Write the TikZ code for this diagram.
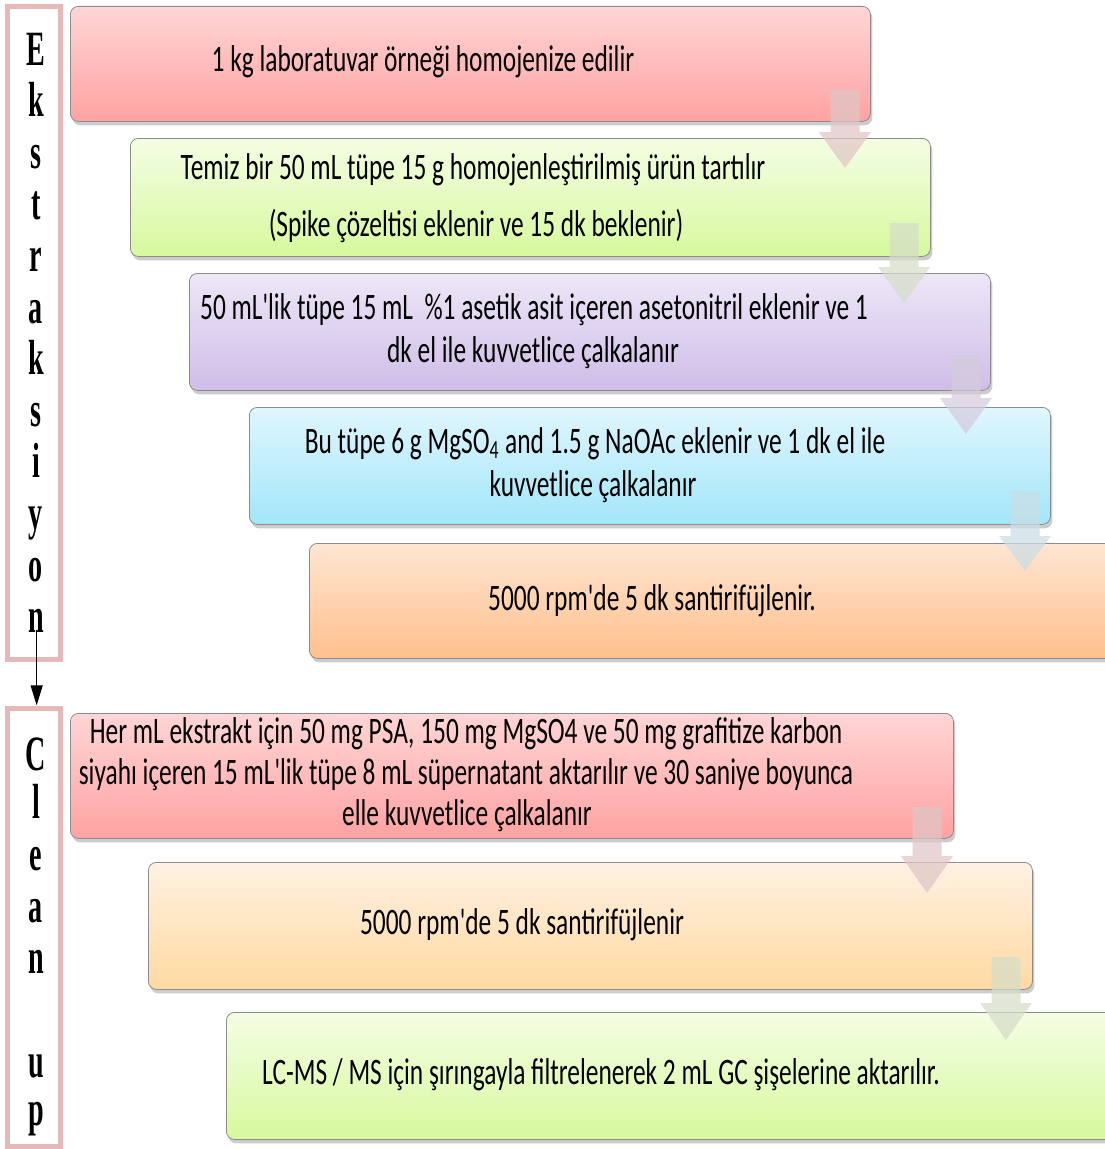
\documentclass[tikz,border=0pt]{standalone}
\usepackage{fontspec}
\newfontfamily\boxfont[FakeStretch=0.68,Ligatures=TeXOff]{Carlito}
\newfontfamily\sidefont[FakeStretch=0.57]{Liberation Serif}
\usetikzlibrary{shadows,arrows.meta}
\definecolor{redtop}{HTML}{FFD5D5}
\definecolor{redbot}{HTML}{FFA2A2}
\definecolor{grntop}{HTML}{F4FDE4}
\definecolor{grnbot}{HTML}{D7F99E}
\definecolor{purtop}{HTML}{EDE7F7}
\definecolor{purbot}{HTML}{CFBDE8}
\definecolor{blutop}{HTML}{E0F6FD}
\definecolor{blubot}{HTML}{A2E6FA}
\definecolor{orgtop}{HTML}{FFE5D3}
\definecolor{orgbot}{HTML}{FFC08D}
\definecolor{lortop}{HTML}{FFF1E3}
\definecolor{lorbot}{HTML}{FFD9A1}
\definecolor{sidepink}{HTML}{E6B8B7}
\definecolor{arpink}{HTML}{DFC6C6}
\definecolor{argreen}{HTML}{D5DDC8}
\definecolor{arpurp}{HTML}{D4CCDC}
\definecolor{arblue}{HTML}{CADEE4}
\newcommand{\blockarr}[5]{\fill[#5, fill opacity=.72] ({#1-14.5},#2) -- ({#1+14.5},#2) -- ({#1+14.5},#3) -- ({#1+26},#3) -- (#1,#4) -- ({#1-26},#3) -- ({#1-14.5},#3) -- cycle;}
\tikzset{
  stepbox/.style={draw=black!45, line width=0.6pt, rounded corners=6pt, inner sep=0pt, anchor=north west,
    drop shadow={shadow xshift=1.5pt, shadow yshift=-3pt, opacity=0.4}},
  txt/.style={anchor=base, font=\boxfont\fontsize{28}{32}\selectfont, text=black, inner sep=0pt},
  side/.style={draw=sidepink, line width=3.75pt, inner sep=0pt, outer sep=0pt, fill=white, anchor=north west},
  sl/.style={anchor=base, font=\sidefont\bfseries\fontsize{37}{42}\selectfont, inner sep=0pt}
}
\begin{document}
\begin{tikzpicture}[x=0.75pt,y=-0.75pt]
\useasboundingbox (0,0) rectangle (1105,1149);
% side boxes
\node[side, minimum width=39.75pt, minimum height=489.4pt] (s1) at (7.5,6.5) {};
\node[side, minimum width=39.75pt, minimum height=328.5pt] (s2) at (7.5,708) {};
\draw[-{Triangle[length=15pt,width=9pt]}, line width=0.8pt] ([xshift=2pt,yshift=21.75pt]s1.south) -- ([xshift=2pt,yshift=2pt]s2.north);
% side letters
\node[sl] (e1) at (36,65) {E};
\node[sl] (e2) at (36,116.6) {k};
\node[sl] (e3) at (36,168.2) {s};
\node[sl] (e4) at (36,219.8) {t};
\node[sl] (e5) at (36,271.4) {r};
\node[sl] (e6) at (36,323) {a};
\node[sl] (e7) at (36,374.6) {k};
\node[sl] (e8) at (36,426.2) {s};
\node[sl] (e9) at (36,477.8) {i};
\node[sl] (e10) at (36,529.4) {y};
\node[sl] (e11) at (36,581) {o};
\node[sl] (e12) at (36,632.6) {n};
\node[sl] (c1) at (36,770) {C};
\node[sl] (c2) at (36,818) {l};
\node[sl] (c3) at (36,870) {e};
\node[sl] (c4) at (36,922) {a};
\node[sl] (c5) at (36,973) {n};
\node[sl] (c6) at (36,1077) {u};
\node[sl] (c7) at (36,1125) {p};
% step boxes
\node[stepbox, top color=redtop, bottom color=redbot, minimum width=600pt, minimum height=86.25pt] (b1) at (70,6) {};
\node[stepbox, top color=grntop, bottom color=grnbot, minimum width=600pt, minimum height=88.5pt] (b2) at (130,138) {};
\node[stepbox, top color=purtop, bottom color=purbot, minimum width=600.75pt, minimum height=87.75pt] (b3) at (189,273) {};
\node[stepbox, top color=blutop, bottom color=blubot, minimum width=600.75pt, minimum height=87.75pt] (b4) at (249,407) {};
\node[stepbox, top color=orgtop, bottom color=orgbot, minimum width=607.5pt, minimum height=86.25pt] (b5) at (309,543) {};
\node[stepbox, top color=redtop, bottom color=redbot, minimum width=662.25pt, minimum height=93.75pt] (b6) at (70,713) {};
\node[stepbox, top color=lortop, bottom color=lorbot, minimum width=663pt, minimum height=95.25pt] (b7) at (148,862) {};
\node[stepbox, top color=grntop, bottom color=grnbot, minimum width=667.5pt, minimum height=95.25pt] (b8) at (226,1012) {};
% texts
\node[txt] (t1) at (423,72) {1 kg laboratuvar örneği homojenize edilir};
\node[txt] (t2a) at (473,179) {Temiz bir 50 mL tüpe 15 g homojenleştirilmiş ürün tartılır};
\node[txt] (t2b) at (476,236) {(Spike çözeltisi eklenir ve 15 dk beklenir)};
\node[txt] (t3a) at (534,319) {50 mL'lik tüpe 15 mL\ \ \%1 asetik asit içeren asetonitril eklenir ve 1};
\node[txt] (t3b) at (533,362) {dk el ile kuvvetlice çalkalanır};
\node[txt] (t4a) at (595,453) {Bu tüpe 6 g MgSO\textsubscript{4} and 1.5 g NaOAc eklenir ve 1 dk el ile};
\node[txt] (t4b) at (593,496) {kuvvetlice çalkalanır};
\node[txt] (t5) at (652,610) {5000 rpm'de 5 dk santirifüjlenir.};
\node[txt] (t6a) at (466,743) {Her mL ekstrakt için 50 mg PSA, 150 mg MgSO4 ve 50 mg grafitize karbon};
\node[txt] (t6b) at (466,784) {siyahı içeren 15 mL'lik tüpe 8 mL süpernatant aktarılır ve 30 saniye boyunca};
\node[txt] (t6c) at (467,825) {elle kuvvetlice çalkalanır};
\node[txt] (t7) at (522,934) {5000 rpm'de 5 dk santirifüjlenir};
\node[txt] (t8) at (601,1084) {LC-MS / MS için şırıngayla filtrelenerek 2 mL GC şişelerine aktarılır.};
% block arrows
\blockarr{845}{90}{132}{168}{arpink}
\blockarr{904}{223}{267}{303}{argreen}
\blockarr{966}{355}{398}{434}{arpurp}
\blockarr{1025}{491}{536}{571}{arblue}
\blockarr{927}{807}{856}{893}{arpink}
\blockarr{1006}{957}{1003}{1040}{argreen}
\end{tikzpicture}
\end{document}
